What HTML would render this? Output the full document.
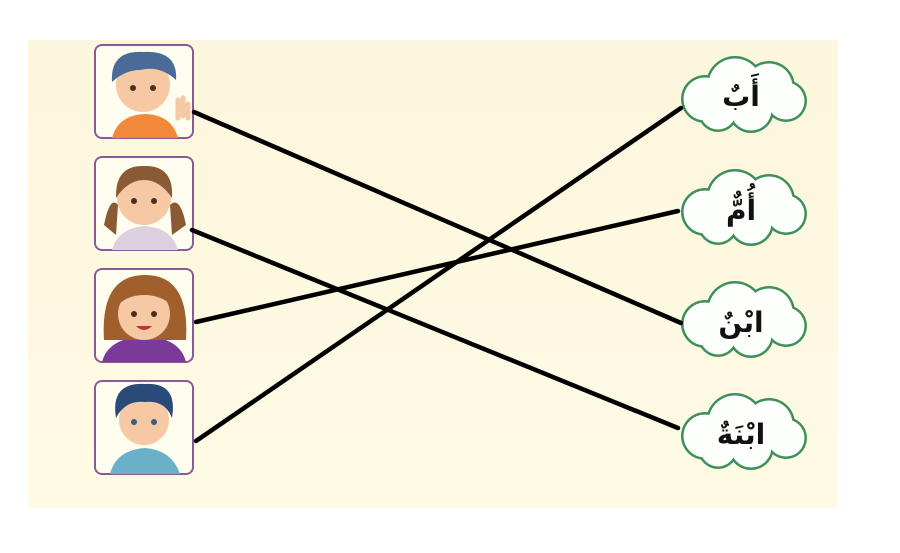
<!DOCTYPE html>
<html><head><meta charset="utf-8"><style>
html,body{margin:0;padding:0;background:#fff}
body{width:900px;height:548px;position:relative;overflow:hidden}
</style></head><body>
<svg width="900" height="548" viewBox="0 0 900 548" xmlns="http://www.w3.org/2000/svg">
<defs>
<linearGradient id="bg" x1="0" y1="0" x2="0" y2="1"><stop offset="0" stop-color="#fcf6dc"/><stop offset="1" stop-color="#fefae4"/></linearGradient>
<g id="cloud">
  <g fill="#3f8f5a">
    <circle cx="32" cy="3" r="24"/><circle cx="62" cy="-11" r="29"/><circle cx="96" cy="-9" r="26"/>
    <circle cx="113" cy="5" r="21"/><circle cx="78" cy="14" r="23"/><circle cx="45" cy="16" r="20"/>
  </g>
  <g fill="#fdfffd">
    <circle cx="32" cy="3" r="21.5"/><circle cx="62" cy="-11" r="26.5"/><circle cx="96" cy="-9" r="23.5"/>
    <circle cx="113" cy="5" r="18.5"/><circle cx="78" cy="14" r="20.5"/><circle cx="45" cy="16" r="17.5"/>
  </g>
</g>
</defs>
<rect x="28" y="40" width="810" height="468" fill="url(#bg)"/>

<g stroke="#8a5a94" stroke-width="2" fill="#fffdf0">
<rect x="95" y="45" width="98" height="93" rx="7"/>
<rect x="95" y="157" width="98" height="93" rx="7"/>
<rect x="95" y="269" width="98" height="93" rx="7"/>
<rect x="95" y="381" width="98" height="93" rx="7"/>
</g>
<path d="M112 138 Q118 115 145 114 Q172 115 178 138 Z" fill="#f08a3a"/>
<circle cx="143" cy="85" r="27" fill="#f6c9a4"/>
<path d="M112 82 Q110 50 143 52 Q178 50 176 80 Q160 65 140 70 Q125 70 112 82 Z" fill="#4a6a98"/>
<circle cx="133" cy="88" r="3" fill="#4a2e1e"/><circle cx="153" cy="88" r="3" fill="#4a2e1e"/>
<path d="M178 118 l0 -18 M183 116 l0 -18 M188 118 l0 -14" stroke="#f6c9a4" stroke-width="5" stroke-linecap="round"/>
<path d="M112 250 Q118 228 145 226 Q172 228 178 250 Z" fill="#dcd0e0"/>
<path d="M104 225 Q110 195 118 205 L116 235 Z M186 225 Q180 195 170 205 L172 235 Z" fill="#8a5a34"/>
<circle cx="144" cy="198" r="27" fill="#f6c9a4"/>
<path d="M116 198 Q115 165 144 166 Q174 165 172 198 Q160 180 144 180 Q128 180 116 198 Z" fill="#8a5a34"/>
<circle cx="134" cy="201" r="3" fill="#4a2e1e"/><circle cx="154" cy="201" r="3" fill="#4a2e1e"/>
<path d="M102 362 Q108 338 145 336 Q180 338 186 362 Z" fill="#7a3a9a"/>
<path d="M104 340 Q100 275 145 275 Q190 275 186 340 Z" fill="#a0602e"/>
<circle cx="144" cy="314" r="26" fill="#f6c9a4"/>
<path d="M118 305 Q125 285 144 288 Q165 285 172 305 Q160 295 144 295 Q128 295 118 305 Z" fill="#a0602e"/>
<circle cx="134" cy="314" r="3" fill="#4a2e1e"/><circle cx="154" cy="314" r="3" fill="#4a2e1e"/>
<path d="M136 326 Q144 334 152 326 Z" fill="#c0303a"/>
<path d="M110 474 Q116 450 145 448 Q172 450 180 474 Z" fill="#6ab0c8"/>
<circle cx="144" cy="420" r="25" fill="#f6c9a4"/>
<path d="M116 418 Q110 382 145 384 Q178 382 172 418 Q165 400 145 402 Q125 400 116 418 Z" fill="#2a4a7a"/>
<circle cx="134" cy="422" r="3" fill="#3a5a8a"/><circle cx="154" cy="422" r="3" fill="#3a5a8a"/>

<use href="#cloud" x="673" y="96"/>
<use href="#cloud" x="673" y="209"/>
<use href="#cloud" x="673" y="321"/>
<use href="#cloud" x="673" y="433"/>
<g font-family="'DejaVu Sans','Noto Sans CJK SC',sans-serif" font-size="28" font-weight="bold" text-anchor="middle" fill="#111">
<text x="741" y="106">أَبٌ</text>
<text x="741" y="220">أُمٌّ</text>
<text x="741" y="332">ابْنٌ</text>
<text x="741" y="444">ابْنَةٌ</text>
</g>

<g stroke="#000" stroke-width="4.5" stroke-linecap="round">
<line x1="194" y1="112" x2="681" y2="323"/>
<line x1="192" y1="230" x2="678" y2="428"/>
<line x1="196" y1="322" x2="678" y2="211"/>
<line x1="196" y1="441" x2="681" y2="108"/>
</g>
</svg>
</body></html>
